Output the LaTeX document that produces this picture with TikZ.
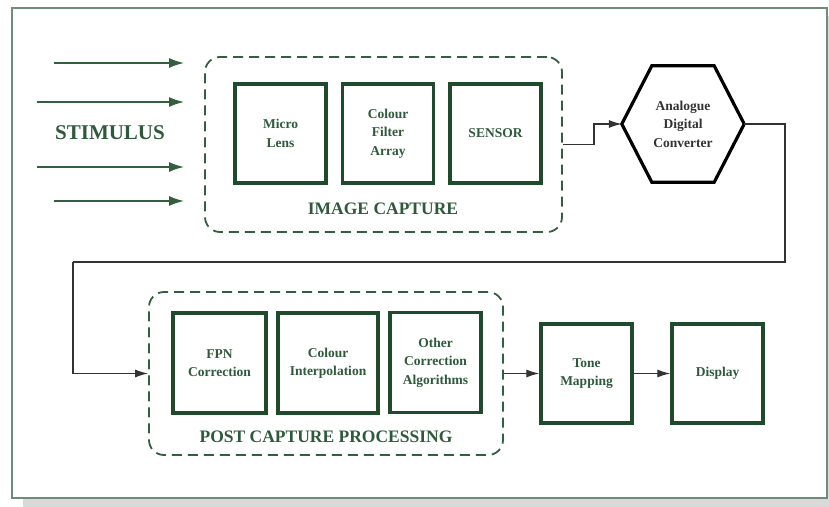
\documentclass[tikz,border=0pt]{standalone}
\usepackage{fontspec}
\setmainfont{Liberation Serif}
\usetikzlibrary{arrows.meta,calc}
\definecolor{txtgreen}{HTML}{2E5A3B}
\definecolor{boxgreen}{HTML}{1F4A2B}
\definecolor{dashgreen}{HTML}{325F40}
\definecolor{framegreen}{HTML}{6E8C76}
\definecolor{shadowgray}{HTML}{D9D9D9}
\definecolor{connline}{HTML}{333333}
\begin{document}
\begin{tikzpicture}[x=1pt,y=-1pt,
  stagebox/.style={draw=boxgreen,line width=3.4pt,minimum width=91,minimum height=99,
    align=center,text=txtgreen,font=\bfseries\fontsize{13.5}{18.5}\selectfont,inner sep=0pt},
  groupbox/.style={draw=dashgreen,line width=1.8pt,dash pattern=on 10pt off 6pt,
    rounded corners=15pt,inner sep=0pt},
  grouplabel/.style={text=txtgreen,font=\bfseries\fontsize{17.5}{20}\selectfont},
  stim/.style={draw=dashgreen,line width=1.5pt,-{Latex[length=15pt,width=10pt]}},
  conn/.style={draw=connline,line width=1.2pt,-{Latex[length=13pt,width=8pt]}},
  plain/.style={draw=connline,line width=1.2pt}]
\useasboundingbox (0,0) rectangle (829,506);
% page frame with its drop shadow
\fill[shadowgray] (23,16) rectangle (845,512);
\draw[framegreen,line width=1.5pt,fill=white] (12,8) rectangle (827,498);

% incoming stimulus
\node[text=txtgreen,font=\bfseries\fontsize{21}{23}\selectfont] (stimulus) at (110,133) {STIMULUS};
\coordinate (s1) at (54,63);  \coordinate (e1) at (184,63);
\coordinate (s2) at (37,102); \coordinate (e2) at (184,102);
\coordinate (s3) at (37,167); \coordinate (e3) at (184,167);
\coordinate (s4) at (54,201); \coordinate (e4) at (184,201);
\foreach \i in {1,...,4} \draw[stim] (s\i) -- (e\i);

% image capture stage
\node[groupbox,minimum width=357,minimum height=175] (cap) at (383.5,144.5) {};
\node[stagebox] (lens) at (280.5,133.5) {Micro\\Lens};
\node[stagebox] (cfa) at (388,133.5) {Colour\\Filter\\Array};
\node[stagebox] (sensor) at (495.5,133.5) {SENSOR};
\node[grouplabel] (caplabel) at (383,209) {IMAGE CAPTURE};

% analogue to digital converter
\node[minimum width=122,minimum height=116,inner sep=0pt,align=center,text=black!80,
  font=\bfseries\fontsize{13.5}{18.5}\selectfont] (adc) at (683,124) {Analogue\\Digital\\Converter};
\draw[black,line width=3.2pt,line join=miter]
  (adc.west) -- ($(adc.north west)+(30,0)$) -- ($(adc.north east)+(-30,0)$) -- (adc.east)
  -- ($(adc.south east)+(-30,0)$) -- ($(adc.south west)+(30,0)$) -- cycle;

% post capture processing stage
\node[groupbox,minimum width=354,minimum height=163] (post) at (326,373.5) {};
\node[stagebox,minimum width=93,minimum height=100] (fpn) at (219.5,363) {FPN\\Correction};
\node[stagebox,minimum width=100,minimum height=100] (interp) at (328,363) {Colour\\Interpolation};
\node[stagebox,minimum height=100] (other) at (435.5,362.5) {Other\\Correction\\Algorithms};
\node[grouplabel] (postlabel) at (326,437) {POST CAPTURE PROCESSING};

% output stages
\node[stagebox] (tone) at (586.5,373.5) {Tone\\Mapping};
\node[stagebox] (display) at (717.5,373.5) {Display};

% connectors
\draw[conn] (cap.east) -- ++(31,0) |- (adc.west);
\coordinate (r1) at (785,262);
\coordinate (l1) at (73,262);
\draw[plain] (adc.east) -| (r1) -- (l1);
\draw[conn] (l1) |- (post.west);
\draw[conn] (post.east) -- (tone.west);
\draw[conn] (tone.east) -- (display.west);
\end{tikzpicture}
\end{document}
